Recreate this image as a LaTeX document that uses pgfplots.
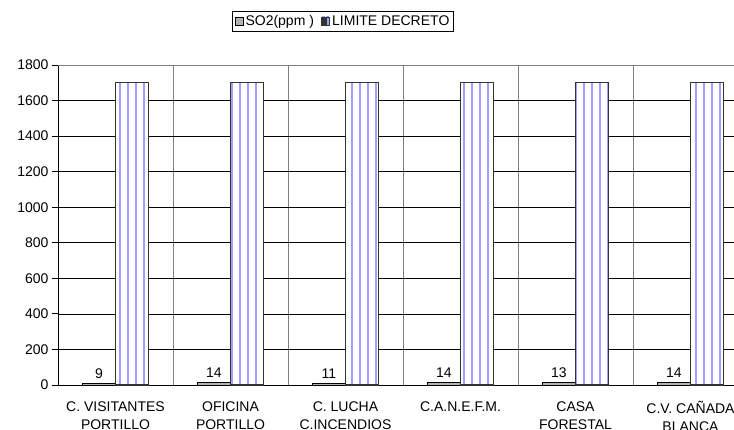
\documentclass[border=0pt]{standalone}
\usepackage{fontspec}
\setmainfont{Liberation Sans}
\usepackage{pgfplots}
\pgfplotsset{compat=1.18}
\usetikzlibrary{patterns.meta,calc}
\definecolor{stripe}{RGB}{160,160,255}
\pgfplotsset{sqlegend/.style={legend image code/.code={\draw[##1] (0pt,-4pt) rectangle (8pt,4pt);}},
  stripelegend/.style={legend image code/.code={\fill[white] (0pt,-4pt) rectangle (8pt,4pt);
     \fill[stripe] (1.5pt,-4pt) rectangle (3pt,4pt); \fill[stripe] (5pt,-4pt) rectangle (6.5pt,4pt);
     \draw[black!80, line width=0.8pt] (0pt,-4pt) rectangle (8pt,4pt);}}}
\begin{document}
\begin{tikzpicture}
\begin{axis}[
  scale only axis, width=690pt, height=320pt,
  xmin=0, xmax=6, ymin=0, ymax=1800,
  axis x line*=bottom, axis y line*=left,
  axis line style={black, line width=0.9pt, -},
  /pgf/number format/assume math mode=true,
  /pgf/number format/set thousands separator={},
  ytick={0,200,...,1600},
  extra y ticks={1800},
  extra y tick style={major grid style={gray, line width=0.9pt}},
  ymajorgrids,
  major grid style={black, line width=0.7pt},
  xtick={0.5,1.5,...,5.5},
  xticklabels={C. VISITANTES\\PORTILLO, OFICINA\\PORTILLO, C. LUCHA\\C.INCENDIOS, C.A.N.E.F.M., CASA\\FORESTAL, C.V. CAÑADA\\BLANCA},
  x tick label style={align=center, font=\fontsize{14}{18}\selectfont, anchor=north, yshift=-7pt},
  y tick label style={font=\fontsize{14}{16}\selectfont},
  xtick style={draw=none},
  minor xtick={0,1,...,6},
  xminorgrids,
  minor grid style={gray, line width=0.7pt},
  tick align=outside,
  major tick length=6pt, minor tick length=6pt,
  tick style={black, line width=0.8pt},
  ybar=0pt, bar width=33pt,
  legend style={at={(0.413,1.1375)}, anchor=center, legend columns=2, draw=black, line width=0.6pt,
    font=\fontsize{14}{16}\selectfont, inner sep=2pt,
    /tikz/every even column/.append style={column sep=5pt}},
  clip=false,
]
\addplot[fill=gray!60, draw=black, line width=1pt,
  nodes near coords,
  every node near coord/.append style={font=\fontsize{14}{16}\selectfont, black, yshift=1pt},
  sqlegend]
  coordinates {(0.5,9) (1.5,14) (2.5,11) (3.5,14) (4.5,13) (5.5,14)};
\addplot[fill=white, draw=black!80, line width=1.2pt,
  postaction={pattern={Lines[angle=90,distance=8pt,line width=2.2pt]}, pattern color=stripe},
  stripelegend]
  coordinates {(0.5,1700) (1.5,1700) (2.5,1700) (3.5,1700) (4.5,1700) (5.5,1700)};
\legend{SO2(ppm ), LIMITE DECRETO}
\coordinate (O) at (rel axis cs:0,0);
\end{axis}
\pgfresetboundingbox
\useasboundingbox ($(O)+(-58pt,-44pt)$) rectangle ($(O)+(676pt,385pt)$);
\end{tikzpicture}
\end{document}
